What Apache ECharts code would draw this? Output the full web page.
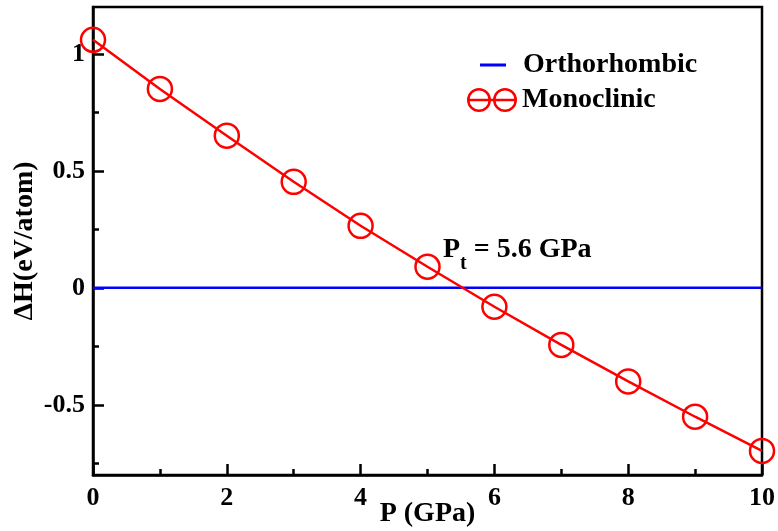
<!DOCTYPE html>
<html><head><meta charset="utf-8">
<script src="https://cdn.jsdelivr.net/npm/echarts@6/dist/echarts.min.js"></script>
<style>html,body{margin:0;padding:0;background:#fff}#c{width:778px;height:531px}</style>
</head><body><div id="c"></div>
<script>
const pressures = [0, 1, 2, 3, 4, 5, 6, 7, 8, 9, 10];
const monoclinic = [1.06, 0.85, 0.65, 0.453, 0.265, 0.09, -0.081, -0.244, -0.40, -0.551, -0.697];
const orthorhombic = [0, 0, 0, 0, 0, 0, 0, 0, 0, 0, 0];
const seriesNames = ['Orthorhombic', 'Monoclinic'];
const yMajorTicks = [-0.5, 0, 0.5, 1];
const yMinorTicks = [-0.75, -0.25, 0.25, 0.75];
const xTitle = 'P (GPa)';
const yTitle = 'ΔH(eV/atom)';

const F = '"Liberation Serif", "Times New Roman", serif';
const chart = echarts.init(document.getElementById('c'));
const ringIcon = 'path://M0,12 A12,12 0 1,1 24,12 A12,12 0 1,1 0,12 Z M2.5,12 A9.5,9.5 0 1,0 21.5,12 A9.5,9.5 0 1,0 2.5,12 Z ' +
  'M26,12 A12,12 0 1,1 50,12 A12,12 0 1,1 26,12 Z M28.5,12 A9.5,9.5 0 1,0 47.5,12 A9.5,9.5 0 1,0 28.5,12 Z ' +
  'M2.5,10.8 L21.5,10.8 L21.5,13.2 L2.5,13.2 Z M24,10.8 L26,10.8 L26,13.2 L24,13.2 Z M28.5,10.8 L47.5,10.8 L47.5,13.2 L28.5,13.2 Z';
const axisLine = { show: true, onZero: false, lineStyle: { color: '#000', width: 2.5 } };
const labelFont = { fontFamily: F, fontWeight: 'bold', fontSize: 26, color: '#000' };
const titleFont = { fontFamily: F, fontWeight: 'bold', fontSize: 28, color: '#000' };
chart.setOption({
  animation: false,
  grid: { left: 93, right: 16, top: 7, bottom: 56, show: true, borderColor: '#000', borderWidth: 2.5,
    backgroundColor: 'transparent', outerBoundsMode: 'none', containLabel: false },
  legend: [
    { data: [{ name: seriesNames[0], icon: 'rect', itemStyle: { color: '#0000ff', borderWidth: 0 } }],
      left: 475, top: 46, itemWidth: 26, itemHeight: 3, itemGap: 0,
      textStyle: Object.assign({}, titleFont, { padding: [0, 0, 0, 12] }) },
    { data: [{ name: seriesNames[1], icon: ringIcon, itemStyle: { color: '#ff0000', borderWidth: 0 } }],
      left: 462, top: 81, itemWidth: 50, itemHeight: 24, itemGap: 0,
      textStyle: Object.assign({}, titleFont, { padding: [0, 0, 0, 0] }) }
  ],
  xAxis: {
    type: 'value', min: 0, max: 10, interval: 2,
    name: xTitle, nameLocation: 'middle', nameGap: 25, nameMoveOverlap: false,
    nameTextStyle: titleFont,
    axisLine: axisLine,
    axisTick: { show: true, inside: true, length: 11, lineStyle: { color: '#000', width: 2.5 } },
    minorTick: { show: true, splitNumber: 2, length: 6, lineStyle: { color: '#000', width: 2.5 } },
    splitLine: { show: false },
    axisLabel: Object.assign({ margin: 10 }, labelFont)
  },
  yAxis: [{
    type: 'value', min: -0.8, max: 1.2,
    name: yTitle, nameLocation: 'middle', nameGap: 54, nameRotate: 90, nameMoveOverlap: false,
    nameTextStyle: titleFont,
    axisLine: axisLine,
    axisTick: { show: true, inside: true, length: 11, customValues: yMajorTicks, lineStyle: { color: '#000', width: 2.5 } },
    splitLine: { show: false },
    axisLabel: Object.assign({ margin: 8, customValues: yMajorTicks,
      formatter: v => (Math.abs(v) < 1e-9 ? '0' : String(v)) }, labelFont)
  }, {
    type: 'value', min: -0.8, max: 1.2, position: 'left',
    axisLine: { show: false },
    axisTick: { show: true, inside: true, length: 6, customValues: yMinorTicks, lineStyle: { color: '#000', width: 2.5 } },
    axisLabel: { show: false },
    splitLine: { show: false }
  }],
  series: [
    { name: seriesNames[0], type: 'line', data: pressures.map((p, i) => [p, orthorhombic[i]]),
      showSymbol: false, symbol: 'none', lineStyle: { color: '#0000ff', width: 2.5 }, itemStyle: { color: '#0000ff' }, z: 2 },
    { name: seriesNames[1], type: 'line', data: pressures.map((p, i) => [p, monoclinic[i]]),
      symbol: 'circle', symbolSize: 24,
      lineStyle: { color: '#ff0000', width: 2.5 },
      itemStyle: { color: 'rgba(0,0,0,0)', borderColor: '#ff0000', borderWidth: 2.5 }, z: 3 }
  ],
  graphic: [{
    type: 'text', left: 443, top: 236, z: 10,
    style: {
      text: '{p|P}{s|t}{p| = 5.6 GPa}',
      rich: {
        p: { fontFamily: F, fontWeight: 'bold', fontSize: 28, fill: '#000', height: 34, verticalAlign: 'top' },
        s: { fontFamily: F, fontWeight: 'bold', fontSize: 20, fill: '#000', height: 34, padding: [14, 0, 0, 0], verticalAlign: 'top' }
      }
    }
  }]
});
</script></body></html>
